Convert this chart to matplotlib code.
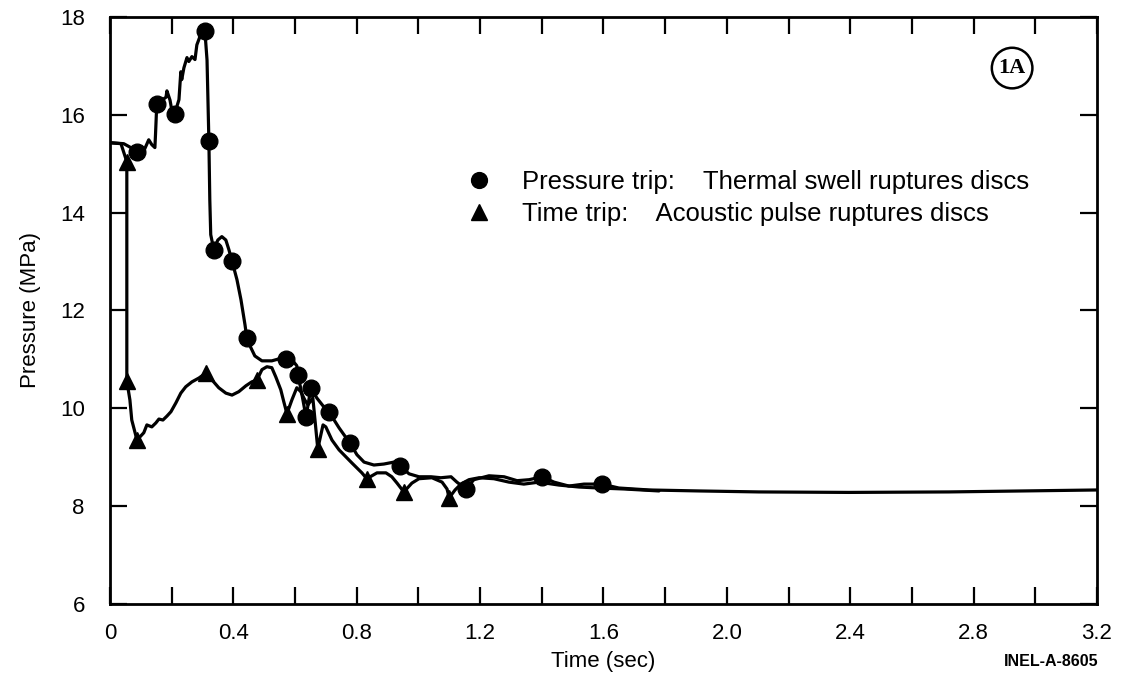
import matplotlib
matplotlib.use("Agg")
import matplotlib.pyplot as plt
from matplotlib.ticker import MultipleLocator

plt.rcParams['font.family'] = ['Liberation Sans', 'DejaVu Sans']

# ---- Pressure trip curve (thermal swell) ----
pt_t = [0.000, 0.045, 0.068, 0.088, 0.110, 0.126, 0.136, 0.146, 0.148, 0.150, 0.152,
        0.182, 0.185, 0.195, 0.201, 0.210,
        0.224, 0.230, 0.233, 0.240, 0.250, 0.256, 0.266, 0.276, 0.282, 0.292, 0.302, 0.308,
        0.315, 0.318, 0.321, 0.324, 0.327, 0.337,
        0.350, 0.363, 0.376, 0.386, 0.396,
        0.412, 0.425, 0.438, 0.444,
        0.457, 0.470, 0.493, 0.525, 0.548, 0.571,
        0.593, 0.606, 0.610, 0.623, 0.636, 0.645, 0.652,
        0.671, 0.691, 0.710, 0.743, 0.778,
        0.801, 0.824, 0.856, 0.888, 0.921, 0.940,
        0.970, 1.002, 1.041, 1.073, 1.106, 1.125, 1.154,
        1.180, 1.229, 1.278, 1.320, 1.359, 1.401,
        1.440, 1.488, 1.537, 1.595,
        1.650, 1.748, 1.910, 2.104, 2.396, 2.720, 3.200]
pt_p = [15.43, 15.41, 15.33, 15.24, 15.26, 15.49, 15.39, 15.33, 15.60, 15.90, 16.22,
        16.36, 16.49, 16.30, 16.09, 16.02,
        16.31, 16.88, 16.72, 16.96, 17.17, 17.09, 17.19, 17.13, 17.43, 17.60, 17.68, 17.72,
        17.12, 16.30, 15.47, 14.26, 13.55, 13.24,
        13.44, 13.51, 13.44, 13.24, 13.01,
        12.63, 12.22, 11.71, 11.44,
        11.24, 11.07, 10.97, 10.97, 11.01, 11.01,
        10.97, 10.87, 10.68, 10.27, 9.82, 10.17, 10.42,
        10.21, 10.05, 9.93, 9.60, 9.29,
        9.05, 8.90, 8.84, 8.86, 8.90, 8.82,
        8.66, 8.60, 8.60, 8.58, 8.60, 8.49, 8.35,
        8.54, 8.62, 8.60, 8.52, 8.54, 8.60,
        8.49, 8.41, 8.45, 8.45,
        8.37, 8.33, 8.31, 8.29, 8.28, 8.29, 8.33]

# Pressure trip markers (circles)
pt_mk_t = [0.088, 0.152, 0.210, 0.308, 0.321, 0.337, 0.396, 0.444, 0.571, 0.610,
           0.652, 0.636, 0.710, 0.778, 0.940, 1.154, 1.401, 1.595]
pt_mk_p = [15.24, 16.22, 16.02, 17.72, 15.47, 13.24, 13.01, 11.44, 11.01, 10.68,
           10.42, 9.82, 9.93, 9.29, 8.82, 8.35, 8.60, 8.45]

# ---- Time trip curve (acoustic pulse) ----
tt_t = [0.000, 0.036, 0.055, 0.055, 0.065, 0.071, 0.088,
        0.110, 0.120, 0.136, 0.149, 0.159, 0.172, 0.185, 0.198, 0.214, 0.230, 0.246, 0.266, 0.289, 0.311,
        0.331, 0.353, 0.376, 0.396, 0.418, 0.441, 0.460, 0.477,
        0.493, 0.509, 0.525, 0.538, 0.554, 0.564, 0.574,
        0.590, 0.606, 0.619, 0.632, 0.642, 0.658, 0.665, 0.674,
        0.691, 0.700, 0.720, 0.743, 0.785, 0.817, 0.833,
        0.866, 0.895, 0.914, 0.931, 0.953,
        0.979, 1.002, 1.044, 1.077, 1.093, 1.100,
        1.119, 1.138, 1.164, 1.197, 1.245, 1.294, 1.342, 1.391,
        1.456, 1.521, 1.586, 1.667, 1.780]
tt_p = [15.43, 15.41, 15.04, 10.56, 10.17, 9.76, 9.35,
        9.50, 9.66, 9.62, 9.70, 9.78, 9.76, 9.84, 9.93, 10.11, 10.31, 10.44, 10.54, 10.62, 10.72,
        10.58, 10.42, 10.31, 10.27, 10.34, 10.46, 10.54, 10.58,
        10.79, 10.85, 10.83, 10.64, 10.38, 10.13, 9.89,
        10.17, 10.42, 10.34, 10.17, 10.07, 10.21, 9.76, 9.17,
        9.66, 9.62, 9.35, 9.15, 8.88, 8.68, 8.56,
        8.68, 8.68, 8.60, 8.47, 8.29,
        8.47, 8.56, 8.58, 8.49, 8.35, 8.17,
        8.33, 8.45, 8.54, 8.58, 8.56, 8.49, 8.45, 8.49,
        8.43, 8.39, 8.37, 8.35, 8.31]

# Time trip markers (triangles)
tt_mk_t = [0.055, 0.055, 0.088, 0.311, 0.477, 0.574, 0.674, 0.833, 0.953, 1.100]
tt_mk_p = [15.04, 10.56, 9.35, 10.72, 10.58, 9.89, 9.17, 8.56, 8.29, 8.17]

x_ticks = [0.0, 0.4, 0.8, 1.2, 1.6, 2.0, 2.4, 2.8, 3.2]
x_labels = ['0', '0.4', '0.8', '1.2', '1.6', '2.0', '2.4', '2.8', '3.2']
y_ticks = [6, 8, 10, 12, 14, 16, 18]

legend_labels = ['Pressure trip:    Thermal swell ruptures discs',
                 'Time trip:    Acoustic pulse ruptures discs']

fig = plt.figure(figsize=(11.21, 6.91), dpi=100)
ax = fig.add_axes([0.098, 0.126, 0.8806, 0.8494])

ax.plot(pt_t, pt_p, color='black', lw=2.3, solid_capstyle='round', solid_joinstyle='round')
ax.plot(tt_t, tt_p, color='black', lw=2.3, solid_capstyle='round', solid_joinstyle='round')
h1, = ax.plot(pt_mk_t, pt_mk_p, 'o', color='black', ms=12, ls='none')
h2, = ax.plot(tt_mk_t, tt_mk_p, '^', color='black', ms=12, ls='none')

ax.set_xlim(0, 3.2)
ax.set_ylim(6, 18)
ax.set_xticks(x_ticks)
ax.set_xticklabels(x_labels)
ax.set_yticks(y_ticks)
ax.xaxis.set_minor_locator(MultipleLocator(0.2))

for s in ax.spines.values():
    s.set_linewidth(2.0)

ax.tick_params(axis='both', which='both', direction='in', length=12, width=1.6,
               top=True, right=True, labelsize=16, pad=14)
ax.tick_params(axis='y', pad=18)

ax.set_xlabel('Time (sec)', fontsize=16, labelpad=5)
ax.set_ylabel('Pressure (MPa)', fontsize=16, labelpad=14)

leg = ax.legend([h1, h2], legend_labels, loc='upper left',
                bbox_to_anchor=(0.338, 0.778), frameon=False, fontsize=18.5,
                handletextpad=1.15, labelspacing=0.28, markerscale=0.95,
                handlelength=1.0)

ax.text(0.914, 0.913, '1A', transform=ax.transAxes, fontsize=16, fontweight='bold',
        family='Liberation Serif', ha='center', va='center',
        bbox=dict(boxstyle='circle,pad=0.3', fc='white', ec='black', lw=1.8))

fig.text(0.98, 0.042, 'INEL-A-8605', fontsize=11.5, fontweight='bold', ha='right', va='center')

fig.savefig('out.png', dpi=100)
